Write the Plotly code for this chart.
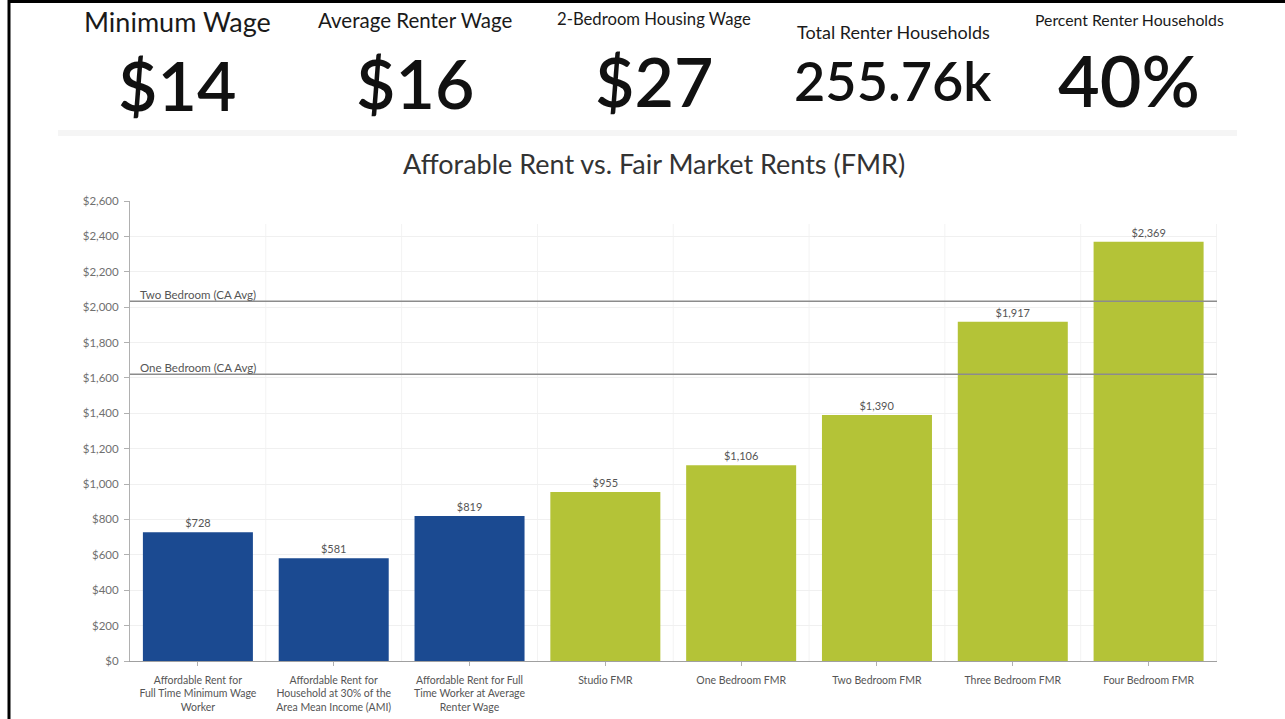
import plotly.graph_objects as go

# ---- data ----
categories = [
    "Affordable Rent for<br>Full Time Minimum Wage<br>Worker",
    "Affordable Rent for<br>Household at 30% of the<br>Area Mean Income (AMI)",
    "Affordable Rent for Full<br>Time Worker at Average<br>Renter Wage",
    "Studio FMR",
    "One Bedroom FMR",
    "Two Bedroom FMR",
    "Three Bedroom FMR",
    "Four Bedroom FMR",
]
rents = [728, 581, 819, 955, 1106, 1390, 1917, 2369]
bar_groups = ["afford", "afford", "afford", "fmr", "fmr", "fmr", "fmr", "fmr"]

ref_labels = ["Two Bedroom (CA Avg)", "One Bedroom (CA Avg)"]
ref_values = [2034, 1621]

kpi_titles = ["Minimum Wage", "Average Renter Wage", "2-Bedroom Housing Wage",
              "Total Renter Households", "Percent Renter Households"]
kpi_values = ["$14", "$16", "$27", "255.76k", "40%"]

y_ticks = list(range(0, 2601, 200))
y_tick_labels = ["$" + format(v, ",") for v in y_ticks]

# ---- styling ----
W, H = 1285, 719
ML, MR, MT, MB = 130, 68, 201, 58
PW = W - ML - MR
PH = H - MT - MB
FONT = "Lato"
group_colors = {"afford": "#1b4a91", "fmr": "#b4c337"}

def px(x):
    return (x - ML) / PW

def py(y):
    return (H - MB - y) / PH

fig = go.Figure()
fig.add_trace(go.Bar(
    x=categories,
    y=rents,
    marker=dict(color=[group_colors[g] for g in bar_groups], line=dict(width=0)),
    text=["$" + format(v, ",") for v in rents],
    textposition="outside",
    textfont=dict(family=FONT, size=11, color="#555555"),
    cliponaxis=False,
    hoverinfo="x+y",
))

shapes = []
# faint vertical grid at category boundaries
for i in range(1, 9):
    shapes.append(dict(type="line", xref="x", yref="paper", x0=i - 0.5, x1=i - 0.5,
                       y0=0, y1=0.95, line=dict(color="#f3f3f3", width=1), layer="below"))
# reference lines
for v in ref_values:
    shapes.append(dict(type="line", xref="paper", yref="y", x0=0, x1=1, y0=v, y1=v,
                       line=dict(color="#8c8c8c", width=1.5), layer="above"))
# separator band under KPIs
shapes.append(dict(type="rect", xref="paper", yref="paper", x0=px(58), x1=px(1237),
                   y0=py(136), y1=py(130), fillcolor="#f5f5f5", line=dict(width=0), layer="below"))
# frame border (top and left)
shapes.append(dict(type="line", xref="paper", yref="paper", x0=px(9), x1=px(W), y0=py(1.5), y1=py(1.5),
                   line=dict(color="#000000", width=3)))
shapes.append(dict(type="line", xref="paper", yref="paper", x0=px(9), x1=px(9), y0=py(0), y1=py(H),
                   line=dict(color="#000000", width=3)))

annotations = []
for lab, v in zip(ref_labels, ref_values):
    annotations.append(dict(text=lab, xref="paper", yref="y", x=px(138), y=v, xanchor="left",
                            yanchor="bottom", showarrow=False,
                            font=dict(family=FONT, size=11.5, color="#555555"), yshift=-2))

kpi_x = [177, 415, 654, 893, 1129]
kpi_title_y = [22, 20, 19, 32, 20]
kpi_title_size = [27, 20.5, 16.7, 18, 15.8]
kpi_value_y = [84, 82, 80, 80, 79]
kpi_value_size = [68, 68, 68, 54, 72]
for t, v, x, ty, ts, vy, vs in zip(kpi_titles, kpi_values, kpi_x, kpi_title_y, kpi_title_size,
                                    kpi_value_y, kpi_value_size):
    annotations.append(dict(text=t, xref="paper", yref="paper", x=px(x), y=py(ty),
                            xanchor="center", yanchor="middle", showarrow=False,
                            font=dict(family=FONT, size=ts, color="#1a1a1a")))
    annotations.append(dict(text=v, xref="paper", yref="paper", x=px(x), y=py(vy),
                            xanchor="center", yanchor="middle", showarrow=False,
                            font=dict(family=FONT, size=vs, color="#111111", weight=600)))

annotations.append(dict(text="Afforable Rent vs. Fair Market Rents (FMR)", xref="paper", yref="paper",
                        x=px(654), y=py(163), xanchor="center", yanchor="middle", showarrow=False,
                        font=dict(family=FONT, size=27, color="#333333")))

fig.update_layout(
    width=W, height=H,
    margin=dict(l=ML, r=MR, t=MT, b=MB, autoexpand=False),
    paper_bgcolor="#ffffff", plot_bgcolor="#ffffff",
    bargap=0.19,
    showlegend=False,
    shapes=shapes,
    annotations=annotations,
    font=dict(family=FONT),
)
fig.update_yaxes(
    range=[0, 2600], tickvals=y_ticks, ticktext=y_tick_labels,
    showgrid=True, gridcolor="#f0f0f0", gridwidth=1,
    showline=True, linecolor="#b0b0b0", linewidth=1,
    ticks="outside", ticklen=5, tickcolor="#b0b0b0", ticklabelstandoff=3,
    tickfont=dict(family=FONT, size=11.5, color="#707070"),
    zeroline=False, fixedrange=True,
)
fig.update_xaxes(
    showgrid=False, showline=True, linecolor="#a0a0a0", linewidth=1,
    ticks="outside", ticklen=4, tickcolor="#b0b0b0", ticklabelstandoff=5,
    tickfont=dict(family=FONT, size=10.5, color="#555555"),
    tickangle=0, fixedrange=True,
)

fig.write_html("out.html", config={"displayModeBar": False},
               post_script="document.body.style.margin='0';")
